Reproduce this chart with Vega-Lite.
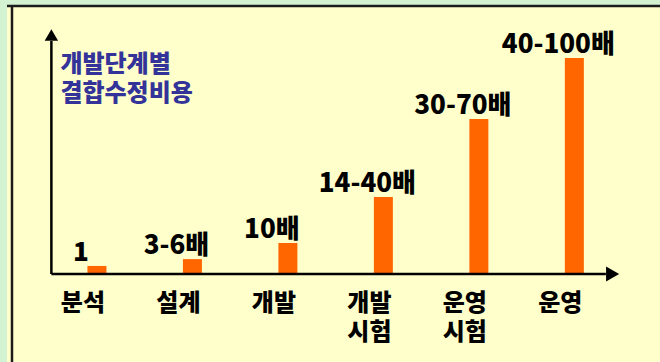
{
  "$schema": "https://vega.github.io/schema/vega-lite/v6.json",
  "width": 653,
  "height": 356,
  "autosize": "none",
  "padding": {"left": 7, "top": 6, "right": 0, "bottom": 0},
  "background": "#D2F2D2",
  "config": {"view": {"stroke": null, "fill": "#FFFFCC"}, "font": "Noto Sans CJK KR"},
  "data": {"values": [
    {"stage": 1, "name": ["분석"], "cost": 3.3, "label": "1"},
    {"stage": 2, "name": ["설계"], "cost": 6.1, "label": "3-6배"},
    {"stage": 3, "name": ["개발"], "cost": 12.7, "label": "10배"},
    {"stage": 4, "name": ["개발", "시험"], "cost": 31.6, "label": "14-40배"},
    {"stage": 5, "name": ["운영", "시험"], "cost": 63.5, "label": "30-70배"},
    {"stage": 6, "name": ["운영"], "cost": 88.5, "label": "40-100배"}
  ]},
  "layer": [
    {
      "mark": {"type": "bar", "color": "#FF6600", "width": 19},
      "encoding": {
        "x": {"field": "stage", "type": "quantitative", "scale": {"domain": [0.1106, 6.8446], "nice": false, "zero": false}, "axis": null},
        "y": {"field": "cost", "type": "quantitative", "scale": {"domain": [-36.066, 109.836], "nice": false, "zero": false}, "axis": null},
        "y2": {"datum": 0}
      }
    },
    {
      "mark": {"type": "text", "fontSize": 26, "fontWeight": 900, "color": "#000000", "align": "center", "baseline": "alphabetic", "dx": -16, "dy": -5},
      "encoding": {
        "x": {"field": "stage", "type": "quantitative", "scale": {"domain": [0.1106, 6.8446], "nice": false, "zero": false}, "axis": null},
        "y": {"field": "cost", "type": "quantitative", "scale": {"domain": [-36.066, 109.836], "nice": false, "zero": false}, "axis": null},
        "text": {"field": "label"}
      }
    },
    {
      "mark": {"type": "text", "fontSize": 24, "fontWeight": 900, "color": "#000000", "align": "center", "baseline": "top", "dx": -14, "dy": 18, "lineHeight": 29},
      "encoding": {
        "x": {"field": "stage", "type": "quantitative", "scale": {"domain": [0.1106, 6.8446], "nice": false, "zero": false}, "axis": null},
        "y": {"datum": 0, "type": "quantitative", "scale": {"domain": [-36.066, 109.836], "nice": false, "zero": false}, "axis": null},
        "text": {"field": "name"}
      }
    },
    {
      "data": {"values": [{}]},
      "mark": {"type": "rule", "color": "#000000", "strokeWidth": 2.5},
      "encoding": {
        "x": {"datum": 0.523, "type": "quantitative", "scale": {"domain": [0.1106, 6.8446], "nice": false, "zero": false}, "axis": null},
        "y": {"datum": 0, "type": "quantitative", "scale": {"domain": [-36.066, 109.836], "nice": false, "zero": false}, "axis": null},
        "y2": {"datum": 95.5}
      }
    },
    {
      "data": {"values": [{}]},
      "mark": {"type": "rule", "color": "#000000", "strokeWidth": 2.5},
      "encoding": {
        "x": {"datum": 0.523, "type": "quantitative", "scale": {"domain": [0.1106, 6.8446], "nice": false, "zero": false}, "axis": null},
        "x2": {"datum": 6.33},
        "y": {"datum": 0, "type": "quantitative", "scale": {"domain": [-36.066, 109.836], "nice": false, "zero": false}, "axis": null}
      }
    },
    {
      "data": {"values": [{}]},
      "mark": {"type": "point", "shape": "triangle-up", "size": 180, "filled": true, "color": "#000000", "opacity": 1},
      "encoding": {
        "x": {"datum": 0.523, "type": "quantitative", "scale": {"domain": [0.1106, 6.8446], "nice": false, "zero": false}, "axis": null},
        "y": {"datum": 97.95, "type": "quantitative", "scale": {"domain": [-36.066, 109.836], "nice": false, "zero": false}, "axis": null}
      }
    },
    {
      "data": {"values": [{}]},
      "mark": {"type": "point", "shape": "triangle-right", "size": 230, "filled": true, "color": "#000000", "opacity": 1},
      "encoding": {
        "x": {"datum": 6.401, "type": "quantitative", "scale": {"domain": [0.1106, 6.8446], "nice": false, "zero": false}, "axis": null},
        "y": {"datum": 0, "type": "quantitative", "scale": {"domain": [-36.066, 109.836], "nice": false, "zero": false}, "axis": null}
      }
    },
    {
      "data": {"values": [{}]},
      "mark": {"type": "text", "text": ["개발단계별", "결합수정비용"], "fontSize": 24, "fontWeight": 900, "color": "#333399", "align": "left", "baseline": "top", "dx": 9, "dy": 23, "lineHeight": 29},
      "encoding": {
        "x": {"datum": 0.523, "type": "quantitative", "scale": {"domain": [0.1106, 6.8446], "nice": false, "zero": false}, "axis": null},
        "y": {"datum": 100, "type": "quantitative", "scale": {"domain": [-36.066, 109.836], "nice": false, "zero": false}, "axis": null}
      }
    },
    {
      "data": {"values": [{}]},
      "mark": {"type": "rule", "color": "#1C1C1C", "strokeWidth": 2.5},
      "encoding": {
        "y": {"datum": 109.836, "type": "quantitative", "scale": {"domain": [-36.066, 109.836], "nice": false, "zero": false}, "axis": null}
      }
    },
    {
      "data": {"values": [{}]},
      "mark": {"type": "rule", "color": "#1C1C1C", "strokeWidth": 2.5},
      "encoding": {
        "x": {"datum": 0.1106, "type": "quantitative", "scale": {"domain": [0.1106, 6.8446], "nice": false, "zero": false}, "axis": null}
      }
    }
  ]
}
